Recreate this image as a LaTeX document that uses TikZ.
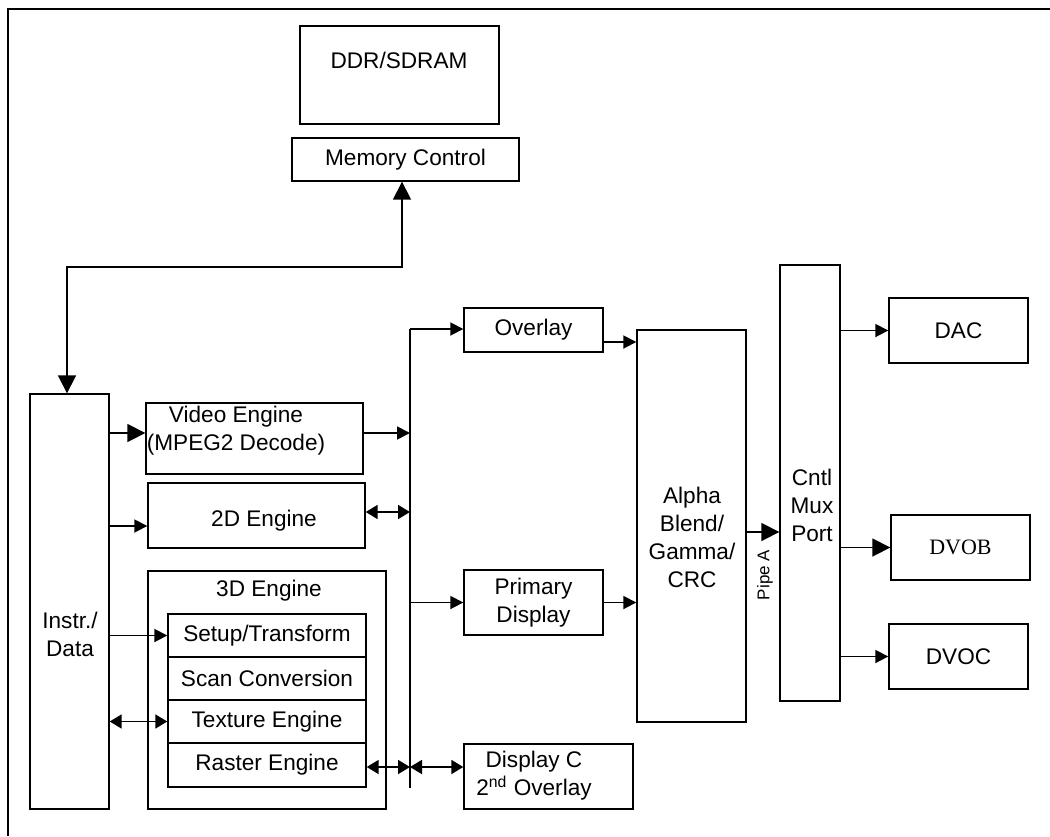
\documentclass[tikz,border=0pt]{standalone}
\usepackage{fontspec}
\setmainfont{Liberation Sans}
\newfontfamily\timesfont{Liberation Serif}
\usetikzlibrary{arrows.meta}
\newcommand{\blockfont}{\fontsize{11.3}{14}\selectfont}

\begin{document}
\begin{tikzpicture}[
  x=0.5pt, y=-0.5pt,
  box/.style={draw, line width=0.7pt, inner sep=0pt, align=center, font=\blockfont},
  size/.style 2 args={minimum width=#1, minimum height=#2},
  txt/.style={align=center, inner sep=0pt, font=\blockfont},
  arrow/.style={-{Triangle[length=6.5pt, width=6.5pt]}, line width=0.9pt},
  bigarrow/.style={-{Triangle[length=9pt, width=9pt]}, line width=0.9pt},
  twoway/.style={{Triangle[length=6pt, width=7pt]}-{Triangle[length=6pt, width=7pt]}, line width=0.9pt},
  bigtwoway/.style={{Triangle[length=9pt, width=9pt]}-{Triangle[length=9pt, width=9pt]}, line width=0.9pt},
]
  \useasboundingbox (0,0) rectangle (1050,836);
  \draw[line width=1pt] (1050,9) -- (8,9) -- (8,836);

  % memory
  \node[box, size={99.5pt}{49pt}] (ddr) at (399.5,75) {};
  \node[txt] (ddr-t) at (399,60) {DDR/SDRAM};
  \node[box, size={113.5pt}{21.5pt}] (mem) at (405.5,159.5) {Memory Control};

  % left column
  \node[box, size={39.5pt}{207.5pt}] (instr) at (69.5,601.5) {};
  \node[txt] (instr-t) at (70,634) {Instr./\\Data};
  \node[box, size={108.5pt}{35.5pt}] (video) at (254.5,438.5) {};
  \node[txt] (video-t) at (236,431) {Video Engine\\(MPEG2 Decode)};
  \node[box, size={108.5pt}{32.5pt}] (twod) at (256.5,515.5) {};
  \node[txt] (twod-t) at (264,521) {2D Engine};
  \node[box, size={119pt}{119pt}] (threed) at (267,690) {};
  \node[txt] (threed-t) at (269,591) {3D Engine};
  \node[box, size={99pt}{21.5pt}] (setup) at (267,635.5) {Setup/Transform};
  \node[box, size={99pt}{21.5pt}] (scan) at (267,678.5) {Scan Conversion};
  \node[box, size={99pt}{21.5pt}] (texture) at (267,721.5) {Texture Engine};
  \node[box, size={99pt}{22pt}] (raster) at (267,765) {Raster Engine};

  % display pipes
  \node[box, size={69.5pt}{22pt}] (overlay) at (533.5,330) {Overlay};
  \node[box, size={69.5pt}{32.5pt}] (primary) at (533.5,602.5) {Primary\\Display};
  \node[box, size={84.5pt}{32.5pt}] (dispc) at (548.5,776.5) {};
  \node[txt] (dispc-t) at (534,776) {Display C\\2\textsuperscript{nd} Overlay};
  \node[box, size={54.5pt}{196pt}] (alpha) at (691.5,526) {};
  \node[txt] (alpha-t) at (692,537) {Alpha\\Blend/\\Gamma/\\CRC};
  \node[box, size={30pt}{218pt}] (cntl) at (810,483) {};
  \node[txt] (cntl-t) at (812,505) {Cntl\\Mux\\Port};
  \node[txt, font=\fontsize{8.5}{10}\selectfont, rotate=90] (pipea) at (765,575) {Pipe A};

  % outputs
  \node[box, size={69.5pt}{32.5pt}] (dac) at (958.5,330.5) {DAC};
  \node[box, size={69.5pt}{32.5pt}, font=\timesfont\fontsize{11}{13}\selectfont] (dvob) at (960.5,547.5) {DVOB};
  \node[box, size={69.5pt}{32.5pt}] (dvoc) at (958.5,656.5) {DVOC};

  % bus
  \coordinate (bustop) at (410,329);
  \coordinate (busbot) at (410,788);
  \draw[line width=1.2pt] (bustop) -- (busbot);

  \coordinate (memlink) at (402,267);
  \coordinate (memdrop) at (67,267);
  \draw[bigtwoway] (mem.south -| memlink) -- (memlink) -- (memdrop) -- (instr.north -| memdrop);

  \draw[bigarrow] (instr.east |- 0,433) -- (video.west |- 0,433);
  \draw[arrow] (instr.east |- 0,526) -- (twod.west |- 0,526);
  \draw[arrow] (instr.east |- setup.west) -- (setup.west);
  \draw[twoway] (instr.east |- texture.west) -- (texture.west);

  \draw[arrow] (video.east |- 0,433) -- (bustop |- 0,433);
  \draw[twoway] (twod.east |- 0,512) -- (bustop |- 0,512);
  \draw[twoway] (raster.east |- 0,767) -- (bustop |- 0,767);
  \draw[twoway] (bustop |- 0,767) -- (dispc.west |- 0,767);
  \draw[arrow] (bustop) -- (overlay.west |- bustop);
  \draw[arrow] (bustop |- primary.west) -- (primary.west);

  \draw[arrow] (overlay.east |- 0,342) -- (alpha.west |- 0,342);
  \draw[arrow] (primary.east) -- (alpha.west |- primary.east);
  \draw[bigarrow] (alpha.east |- 0,532) -- (cntl.west |- 0,532);

  \draw[arrow] (cntl.east |- dac.west) -- (dac.west);
  \draw[bigarrow] (cntl.east |- dvob.west) -- (dvob.west);
  \draw[arrow] (cntl.east |- dvoc.west) -- (dvoc.west);
\end{tikzpicture}
\end{document}
